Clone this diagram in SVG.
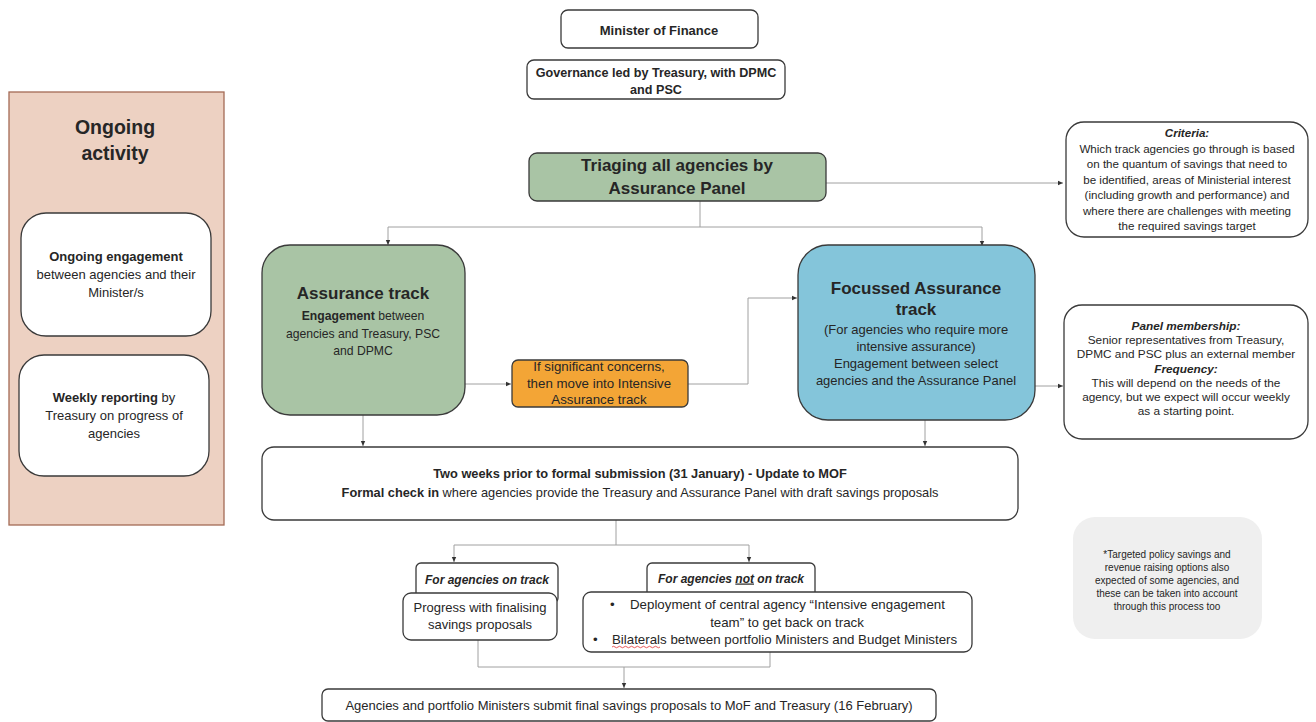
<svg xmlns="http://www.w3.org/2000/svg" width="1316" height="722" viewBox="0 0 1316 722">
<defs>
<style>
text{font-family:"Liberation Sans",Arial,sans-serif;fill:#262626;}
.c{text-anchor:middle;}
.b{font-weight:bold;}
.bi{font-weight:bold;font-style:italic;}
.box{fill:#fff;stroke:#3a3a3a;stroke-width:1.3;}
.con{fill:none;stroke:#a0a0a0;stroke-width:1;}
</style>
<marker id="ah" markerWidth="6" markerHeight="6" refX="5" refY="3" orient="auto" markerUnits="userSpaceOnUse">
<path d="M0,0.8 L5,3 L0,5.2 Z" fill="#333"/>
</marker>
</defs>
<rect width="1316" height="722" fill="#fff"/>

<g id="connectors">
<path class="con" d="M826,183 H1063" marker-end="url(#ah)"/>
<path class="con" d="M700,201 V227 M388,227 H982"/>
<path class="con" d="M388,227 V245" marker-end="url(#ah)"/>
<path class="con" d="M982,227 V246" marker-end="url(#ah)"/>
<path class="con" d="M465,384 H511" marker-end="url(#ah)"/>
<path class="con" d="M688,384 H748 V298 H797" marker-end="url(#ah)"/>
<path class="con" d="M1035,386 H1063" marker-end="url(#ah)"/>
<path class="con" d="M363,415 V446" marker-end="url(#ah)"/>
<path class="con" d="M925,420 V446" marker-end="url(#ah)"/>
<path class="con" d="M616,520 V545 M454,545 H749"/>
<path class="con" d="M454,545 V562" marker-end="url(#ah)"/>
<path class="con" d="M749,545 V562" marker-end="url(#ah)"/>
<path class="con" d="M478,640 V667 M770,652 V667 M478,667 H770"/>
<path class="con" d="M624,667 V688" marker-end="url(#ah)"/>
</g>

<g id="minister">
<rect class="box" x="561" y="10" width="197" height="38" rx="7"/>
<text class="c b" x="659" y="34.5" font-size="13">Minister of Finance</text>
</g>

<g id="governance">
<rect class="box" x="527" y="60" width="258" height="39" rx="7"/>
<text class="c b" x="656" y="76.5" font-size="12.6">Governance led by Treasury, with DPMC</text>
<text class="c b" x="656" y="93.5" font-size="12.6">and PSC</text>
</g>

<g id="ongoing">
<rect x="9" y="92" width="215" height="433" fill="#EDD1C2" stroke="#A46A55" stroke-width="1.3"/>
<text class="c b" x="115" y="134" font-size="19.5" fill="#1a1a1a">Ongoing</text>
<text class="c b" x="115" y="160" font-size="19.5" fill="#1a1a1a">activity</text>
</g>

<g id="ongoing-engagement">
<rect class="box" x="21" y="213" width="190" height="123" rx="25"/>
<text class="c b" x="116" y="261" font-size="13">Ongoing engagement</text>
<text class="c" x="116" y="279" font-size="13">between agencies and their</text>
<text class="c" x="116" y="297" font-size="13">Minister/s</text>
</g>

<g id="weekly-reporting">
<rect class="box" x="19" y="355" width="190" height="121" rx="25"/>
<text class="c" x="114" y="402" font-size="13"><tspan class="b">Weekly reporting</tspan> by</text>
<text class="c" x="114" y="420" font-size="13">Treasury on progress of</text>
<text class="c" x="114" y="438" font-size="13">agencies</text>
</g>

<g id="triage">
<rect x="529" y="153" width="297" height="48" rx="8" fill="#A9C4A5" stroke="#3a3a3a" stroke-width="1.3"/>
<text class="c b" x="677" y="171" font-size="17" fill="#1a1a1a">Triaging all agencies by</text>
<text class="c b" x="677" y="194" font-size="17" fill="#1a1a1a">Assurance Panel</text>
</g>

<g id="criteria">
<rect class="box" x="1066" y="122" width="242" height="115" rx="18"/>
<g font-size="11.6">
<text class="c bi" x="1187" y="137">Criteria:</text>
<text class="c" x="1187" y="152.5">Which track agencies go through is based</text>
<text class="c" x="1187" y="168">on the quantum of savings that need to</text>
<text class="c" x="1187" y="183.5">be identified, areas of Ministerial interest</text>
<text class="c" x="1187" y="199">(including growth and performance) and</text>
<text class="c" x="1187" y="214.5">where there are challenges with meeting</text>
<text class="c" x="1187" y="230">the required savings target</text>
</g>
</g>

<g id="assurance-track">
<rect x="262" y="245" width="203" height="170" rx="28" fill="#A9C4A5" stroke="#3a3a3a" stroke-width="1.3"/>
<text class="c b" x="363" y="299" font-size="17" fill="#1a1a1a">Assurance track</text>
<text class="c" x="363" y="320" font-size="12.2"><tspan class="b">Engagement</tspan> between</text>
<text class="c" x="363" y="337.5" font-size="12.2">agencies and Treasury, PSC</text>
<text class="c" x="363" y="355" font-size="12.2">and DPMC</text>
</g>

<g id="intensive">
<rect x="512" y="360" width="176" height="47" rx="6" fill="#F3A536" stroke="#3a3a3a" stroke-width="1.3"/>
<text class="c" x="599" y="370.5" font-size="13.3">If significant concerns,</text>
<text class="c" x="599" y="387.5" font-size="13.3">then move into Intensive</text>
<text class="c" x="599" y="404" font-size="13.3">Assurance track</text>
</g>

<g id="focussed">
<rect x="798" y="245" width="237" height="175" rx="30" fill="#84C5DA" stroke="#3a3a3a" stroke-width="1.3"/>
<text class="c b" x="916" y="294" font-size="17" fill="#1a1a1a">Focussed Assurance</text>
<text class="c b" x="916" y="315" font-size="17" fill="#1a1a1a">track</text>
<text class="c" x="916" y="333.5" font-size="13">(For agencies who require more</text>
<text class="c" x="916" y="350.5" font-size="13">intensive assurance)</text>
<text class="c" x="916" y="367.5" font-size="13">Engagement between select</text>
<text class="c" x="916" y="384.5" font-size="13">agencies and the Assurance Panel</text>
</g>

<g id="panel">
<rect class="box" x="1064" y="305" width="244" height="134" rx="18"/>
<g font-size="11.8">
<text class="c bi" x="1186" y="330">Panel membership:</text>
<text class="c" x="1186" y="344.2">Senior representatives from Treasury,</text>
<text class="c" x="1186" y="358.4">DPMC and PSC plus an external member</text>
<text class="c bi" x="1186" y="372.6">Frequency:</text>
<text class="c" x="1186" y="386.8">This will depend on the needs of the</text>
<text class="c" x="1186" y="401">agency, but we expect will occur weekly</text>
<text class="c" x="1186" y="415.2">as a starting point.</text>
</g>
</g>

<g id="formal-check">
<rect class="box" x="262" y="447" width="756" height="73" rx="12"/>
<text class="c b" x="640" y="477.5" font-size="12.8">Two weeks prior to formal submission (31 January) - Update to MOF</text>
<text class="c" x="640" y="496.5" font-size="12.8"><tspan class="b">Formal check in</tspan> where agencies provide the Treasury and Assurance Panel with draft savings proposals</text>
</g>

<g id="on-track">
<rect class="box" x="416" y="563" width="142" height="40" rx="5"/>
<text class="c bi" x="487" y="583.5" font-size="12">For agencies on track</text>
<rect class="box" x="403" y="593" width="154" height="47" rx="8"/>
<text class="c" x="480" y="611.5" font-size="13">Progress with finalising</text>
<text class="c" x="480" y="628.5" font-size="13">savings proposals</text>
</g>

<g id="not-on-track">
<rect class="box" x="647" y="563" width="168" height="40" rx="5"/>
<text class="c bi" x="731" y="582.5" font-size="12">For agencies <tspan text-decoration="underline">not</tspan> on track</text>
<rect class="box" x="583" y="592" width="389" height="60" rx="8"/>
<text x="610" y="608.5" font-size="13.3">•</text>
<text x="630" y="608.5" font-size="13.3">Deployment of central agency “Intensive engagement</text>
<text class="c" x="787" y="626.5" font-size="13.3">team” to get back on track</text>
<text x="593" y="643.5" font-size="13.3">•</text>
<text x="612" y="643.5" font-size="13.3">Bilaterals between portfolio Ministers and Budget Ministers</text>
<path d="M612,647 q1.5,-1.5 3,0 t3,0 t3,0 t3,0 t3,0 t3,0 t3,0 t3,0 t3,0 t3,0 t3,0 t3,0 t3,0 t3,0 t3,0 t3,0" fill="none" stroke="#e03030" stroke-width="0.8"/>
</g>

<g id="final">
<rect class="box" x="322" y="689" width="614" height="32" rx="6"/>
<text class="c" x="629" y="710" font-size="13">Agencies and portfolio Ministers submit final savings proposals to MoF and Treasury (16 February)</text>
</g>

<g id="note">
<rect x="1073" y="517" width="189" height="122" rx="22" fill="#EFEFEF"/>
<g font-size="10">
<text class="c" x="1167" y="557.5">*Targeted policy savings and</text>
<text class="c" x="1167" y="570.5">revenue raising options also</text>
<text class="c" x="1167" y="583.5">expected of some agencies, and</text>
<text class="c" x="1167" y="596.5">these can be taken into account</text>
<text class="c" x="1167" y="609.5">through this process too</text>
</g>
</g>
</svg>
